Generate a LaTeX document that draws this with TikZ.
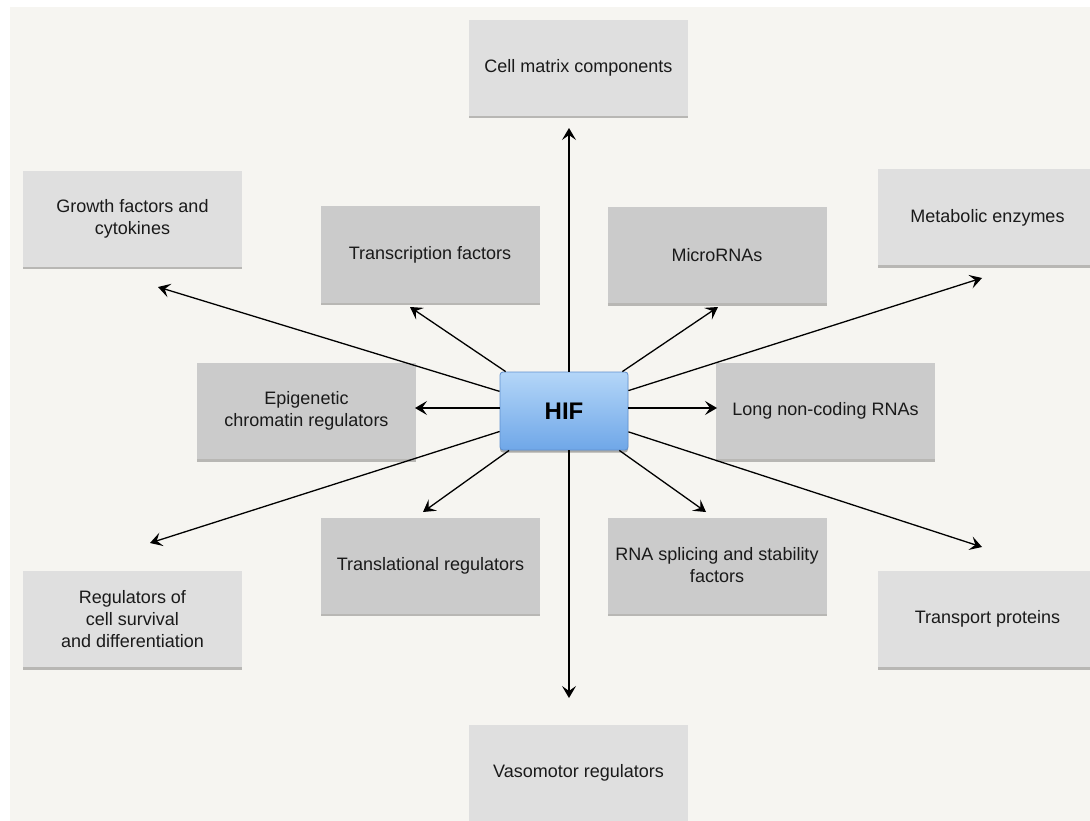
\documentclass[tikz,border=0pt]{standalone}
\usepackage{fontspec}
\setmainfont{Liberation Sans}
\usetikzlibrary{arrows.meta,shadows}
\definecolor{bgc}{HTML}{F6F5F1}
\definecolor{outerbox}{HTML}{DFDFDF}
\definecolor{innerbox}{HTML}{CBCBCB}
\definecolor{hiftop}{HTML}{B4D6F8}
\definecolor{hifbot}{HTML}{6FA7E8}
\definecolor{hifdraw}{HTML}{5F90CF}
\definecolor{txt}{HTML}{1A1A1A}
\tikzset{
  box/.style={minimum width=219pt, minimum height=96pt, inner sep=0pt, align=center,
    font=\fontsize{18}{22}\selectfont, text=txt,
    drop shadow={shadow xshift=0pt, shadow yshift=-2.5pt, opacity=0.25, fill=black}},
  outer/.style={box, fill=outerbox},
  inner/.style={box, fill=innerbox},
  hifbox/.style={minimum width=128pt, minimum height=78pt, inner sep=0pt,
    rounded corners=3pt, top color=hiftop, bottom color=hifbot, draw=hifdraw, line width=0.8pt,
    font=\fontsize{24}{28}\selectfont\bfseries,
    drop shadow={shadow xshift=0pt, shadow yshift=-2.5pt, opacity=0.3, fill=black}},
  arr/.style={line width=1.3pt, -{Stealth[length=12pt,width=14pt,inset=5pt]}}
}
\begin{document}
\begin{tikzpicture}[x=1pt,y=-1pt]
\fill[white] (0,0) rectangle (1090,821);
\fill[bgc] (10,7) rectangle (1090,821);
\useasboundingbox (0,0) rectangle (1090,821);

\node[outer] (cell) at (578.5,68) {Cell matrix components};
\node[outer] (growth) at (132.5,219) {Growth factors and\\cytokines};
\node[inner] (tf) at (430,254.5) {Transcription factors};
\node[inner] (mirna) at (717,255) {MicroRNAs};
\node[outer] (metab) at (987.5,217.5) {Metabolic enzymes};
\node[inner] (epi) at (306.5,411) {Epigenetic\\chromatin regulators};
\node[inner] (lnc) at (825.5,411) {Long non-coding RNAs};
\node[inner] (transl) at (430.5,565.5) {Translational regulators};
\node[inner] (splice) at (717,565.5) {RNA splicing and stability\\factors};
\node[outer] (surv) at (132.5,619) {Regulators of\\cell survival\\and differentiation};
\node[outer] (transp) at (987.5,619) {Transport proteins};
\node[outer] (vaso) at (578.5,773) {Vasomotor regulators};

\node[hifbox] (hif) at (564,411) {HIF};

\coordinate (tUp) at (569,128);
\coordinate (tDown) at (569,698);
\coordinate (tGrowth) at (158,287);
\coordinate (tTf) at (410,307);
\coordinate (tMir) at (718,307);
\coordinate (tMetab) at (982,278);
\coordinate (tEpi) at (415,408);
\coordinate (tLnc) at (717,408);
\coordinate (tSurv) at (150,543);
\coordinate (tTransl) at (423,512);
\coordinate (tSplice) at (706,512);
\coordinate (tTransp) at (982,547);

\draw[arr] (tUp |- hif.north) -- (tUp);
\draw[arr] (tDown |- hif.south) -- (tDown);
\draw[arr] (hif) -- (tGrowth);
\draw[arr] (hif) -- (tTf);
\draw[arr] (hif) -- (tMir);
\draw[arr] (hif) -- (tMetab);
\draw[arr] (hif.west |- tEpi) -- (tEpi);
\draw[arr] (hif.east |- tLnc) -- (tLnc);
\draw[arr] (hif) -- (tSurv);
\draw[arr] (hif) -- (tTransl);
\draw[arr] (hif) -- (tSplice);
\draw[arr] (hif) -- (tTransp);
\end{tikzpicture}
\end{document}
